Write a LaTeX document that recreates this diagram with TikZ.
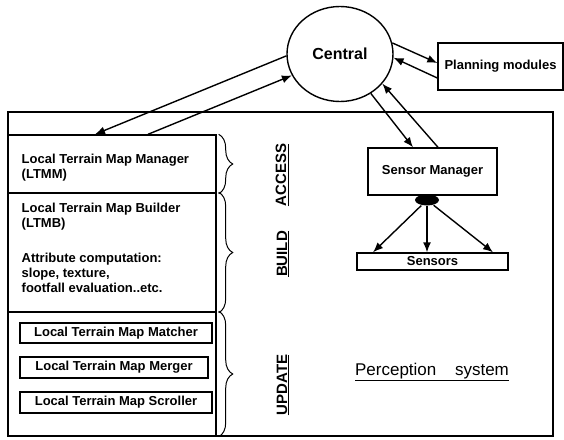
\documentclass[tikz,border=0pt]{standalone}
\usepackage{fontspec}
\setmainfont{Liberation Sans}
\usetikzlibrary{arrows.meta, shapes.geometric, decorations.pathreplacing, calc}

\begin{document}
\begin{tikzpicture}[x=1pt, y=-1pt, line width=1.4pt,
    box/.style={draw, rectangle, inner sep=0pt, font=\fontsize{13}{15}\selectfont\bfseries},
    txt/.style={font=\fontsize{13}{15}\selectfont\bfseries, align=left, inner sep=0pt},
    arr/.style={-{Latex[length=10pt,width=8pt]}},
    brc/.style={decorate, decoration={brace, amplitude=14pt}, line width=1pt},
    tag/.style={font=\fontsize{15}{15}\selectfont\bfseries, rotate=90, inner sep=0pt}]

    \useasboundingbox (0, 0) rectangle (564, 439);

    \node[draw, ellipse, minimum width=106pt, minimum height=95pt, inner sep=0pt,
          font=\fontsize{16}{16}\selectfont\bfseries] (central) at (340, 54) {Central};
    \node[box, minimum width=125pt, minimum height=47pt] (plan) at (500.5, 66.5) {Planning modules};

    % perception system
    \node[box, minimum width=545pt, minimum height=324pt] (percep) at (280.5, 274) {};
    \node[box, minimum width=208pt, minimum height=58pt] (ltmm) at (112, 164) {};
    \node[box, minimum width=208pt, minimum height=119pt] (ltmb) at (112, 252.5) {};
    \node[box, minimum width=208pt, minimum height=124pt] (upd) at (112, 374) {};

    \node[txt, anchor=west] (ltmmtext) at (21, 167.5) {Local Terrain Map Manager\\(LTMM)};
    \node[txt, anchor=north west] (ltmbtext) at (21, 202)
        {Local Terrain Map Builder\\(LTMB)\\[20pt]Attribute computation:\\slope, texture,\\footfall evaluation..etc.};

    \node[box, minimum width=192pt, minimum height=20pt] (matcher) at (116, 333) {Local Terrain Map Matcher};
    \node[box, minimum width=188pt, minimum height=21pt] (merger) at (114, 367.5) {Local Terrain Map Merger};
    \node[box, minimum width=192pt, minimum height=21pt] (scroller) at (116, 402.5) {Local Terrain Map Scroller};

    \node[box, minimum width=129pt, minimum height=47pt] (sm) at (432.5, 171.5) {Sensor Manager};
    \node[box, minimum width=151pt, minimum height=17pt] (sensors) at (432.5, 261.5) {Sensors};
    \node[fill, ellipse, minimum width=24pt, minimum height=11pt, inner sep=0pt] (hub) at (427, 200) {};

    \node[tag] (access) at (282, 175) {\underline{ACCESS}};
    \node[tag] (build) at (283, 254) {\underline{BUILD}};
    \node[tag] (update) at (283, 385) {\underline{UPDATE}};
    \node[font=\fontsize{17}{17}\selectfont] (perctext) at (432, 372) {\underline{Perception\hspace{1.1em}system}};

    \draw[brc] ([xshift=2pt]ltmm.north east) -- ([xshift=2pt]ltmm.south east);
    \draw[brc] ([xshift=2pt]ltmb.north east) -- ([xshift=2pt]ltmb.south east);
    \draw[brc] ([xshift=2pt]upd.north east) -- ([xshift=2pt]upd.south east);

    \draw[arr] (central.182) -- ([xshift=-17pt]ltmm.north);
    \draw[arr] ([xshift=36pt]ltmm.north) -- (central.204);
    \draw[arr] (central.12) -- ([yshift=3.5pt]plan.west);
    \draw[arr] ([yshift=-11.5pt]plan.west) -- (central.356);
    \draw[arr] (central.308) -- ([xshift=-19.5pt]sm.north);
    \draw[arr] ([xshift=5.5pt]sm.north) -- (central.325);

    \draw[arr] (hub) -- ([xshift=-59.5pt]sensors.north);
    \draw[arr] (hub) -- (sensors.north -| hub);
    \draw[arr] (hub) -- ([xshift=60.5pt]sensors.north);
\end{tikzpicture}
\end{document}
